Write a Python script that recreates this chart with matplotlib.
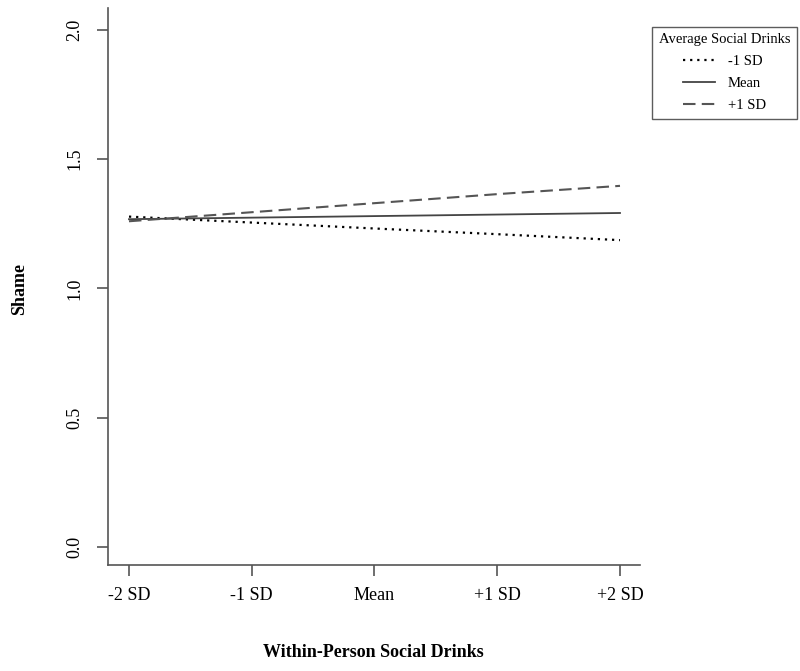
import matplotlib
matplotlib.use("Agg")
import matplotlib.pyplot as plt

plt.rcParams['font.family'] = ['Liberation Serif', 'DejaVu Serif']

# data
x_labels = ['-2 SD', '-1 SD', 'Mean', '+1 SD', '+2 SD']
x_pos = [-2, -1, 0, 1, 2]
low_sd = [1.278, 1.255, 1.232, 1.210, 1.187]
mean_sd = [1.268, 1.274, 1.280, 1.286, 1.292]
high_sd = [1.260, 1.295, 1.330, 1.365, 1.397]
y_ticks = [0.0, 0.5, 1.0, 1.5, 2.0]

fig = plt.figure(figsize=(8, 6.71), dpi=100)
ax = fig.add_axes([0.135, 0.158, 0.665, 0.830])

l1, = ax.plot(x_pos, low_sd, color='black', linestyle=(0, (1, 2.2)), linewidth=1.6, label='-1 SD')
l2, = ax.plot(x_pos, mean_sd, color='#444444', linestyle='-', linewidth=1.3, label='Mean')
l3, = ax.plot(x_pos, high_sd, color='#555555', linestyle=(0, (6, 3)), linewidth=1.5, label='+1 SD')

ax.set_xlim(-2.171, 2.163)
ax.set_ylim(-0.07, 2.085)
ax.set_xticks(x_pos)
ax.set_xticklabels(x_labels, fontsize=13)
ax.set_yticks(y_ticks)
ax.set_yticklabels(['%.1f' % v for v in y_ticks], fontsize=13, rotation=90, va='center')

for s in ['top', 'right']:
    ax.spines[s].set_visible(False)
for s in ['left', 'bottom']:
    ax.spines[s].set_color('#555555')
    ax.spines[s].set_linewidth(1.2)
ax.tick_params(axis='both', direction='out', length=8, color='#555555', width=1.2)
ax.tick_params(axis='x', pad=8)
ax.tick_params(axis='y', pad=10)

fig.text(0.025, 0.57, 'Shame', rotation=90, fontsize=13, fontweight='bold', ha='center', va='center')
fig.text(0.467, 0.028, 'Within-Person Social Drinks', fontsize=13, fontweight='bold', ha='center', va='center')

leg = fig.legend(handles=[l1, l2, l3], title='Average Social Drinks', loc='upper left',
                 bbox_to_anchor=(0.815, 0.96), fontsize=10.5, title_fontsize=10.5,
                 frameon=True, fancybox=False, edgecolor='#333333', handlelength=2.2,
                 handletextpad=0.9, borderpad=0.45, labelspacing=0.6, borderaxespad=0)
leg.get_frame().set_linewidth(1.0)

fig.savefig('out.png', dpi=100)
